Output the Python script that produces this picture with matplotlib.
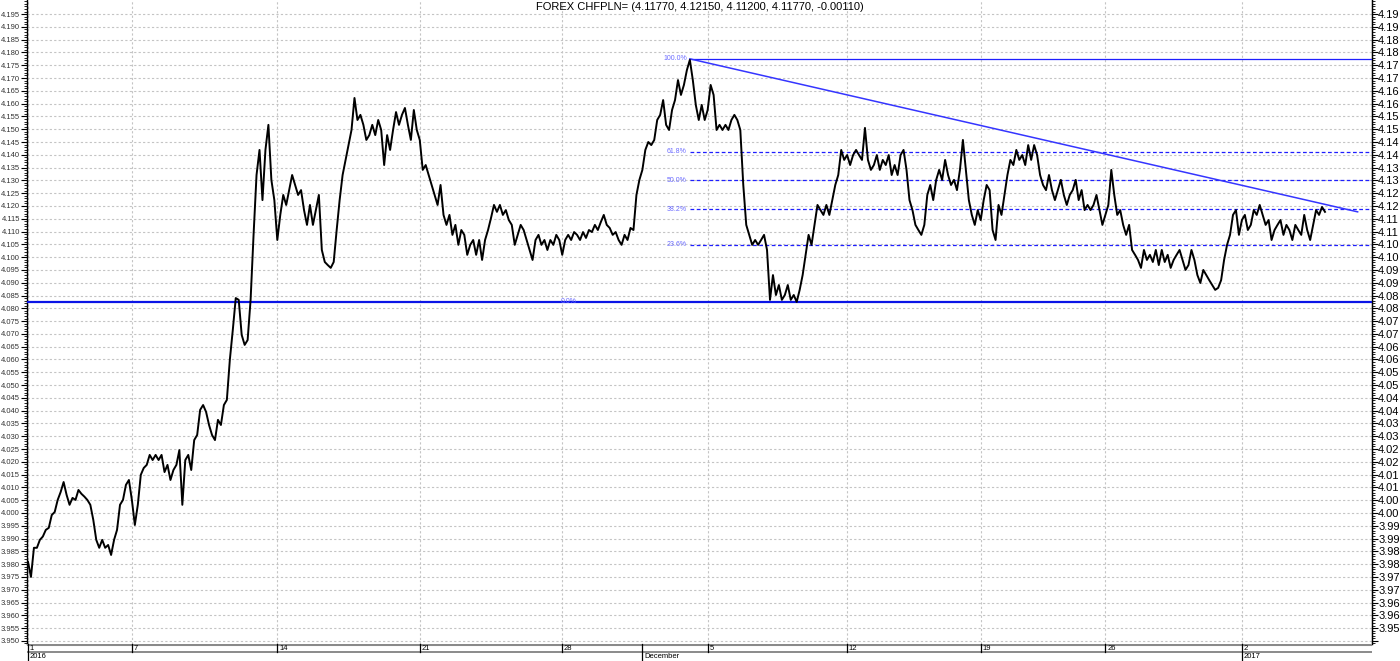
import numpy as np
import matplotlib
matplotlib.use('Agg')
import matplotlib.pyplot as plt
from matplotlib.ticker import MultipleLocator, FuncFormatter, FixedLocator

plt.rcParams['font.family'] = ['Liberation Sans', 'DejaVu Sans']

# CHFPLN intraday closes, one list per trading week
nov01 = [3.9809, 3.9750, 3.9864, 3.9864, 3.9895, 3.9908, 3.9934, 3.9942, 3.9992, 4.0004,
         4.0051, 4.0082, 4.0121, 4.0071, 4.0032, 4.0059, 4.0051, 4.0090, 4.0075, 4.0064,
         4.0051, 4.0032, 3.9973, 3.9895, 3.9864, 3.9895, 3.9864, 3.9875, 3.9836, 3.9895,
         3.9934, 4.0032, 4.0051, 4.0110, 4.0129]
nov07 = [4.0051, 3.9953, 4.0032, 4.0149, 4.0176, 4.0188, 4.0227, 4.0207, 4.0227, 4.0207,
         4.0227, 4.0160, 4.0188, 4.0129, 4.0168, 4.0188, 4.0246, 4.0032, 4.0207, 4.0227,
         4.0168, 4.0285, 4.0305, 4.0403, 4.0422, 4.0395, 4.0344, 4.0305, 4.0285, 4.0364,
         4.0344, 4.0422, 4.0442, 4.0598, 4.0715, 4.0840, 4.0833, 4.0696, 4.0657, 4.0676,
         4.0833, 4.1087, 4.1321, 4.1419, 4.1223, 4.1419, 4.1517, 4.1302, 4.1223]
nov14 = [4.1067, 4.1165, 4.1243, 4.1204, 4.1262, 4.1321, 4.1282, 4.1243, 4.1262, 4.1184,
         4.1126, 4.1204, 4.1126, 4.1184, 4.1243, 4.1028, 4.0981, 4.0969, 4.0958, 4.0981,
         4.1106, 4.1223, 4.1321, 4.1380, 4.1438, 4.1497, 4.1622, 4.1536, 4.1556, 4.1517,
         4.1458, 4.1477, 4.1517, 4.1477, 4.1536, 4.1497, 4.1360, 4.1477, 4.1419, 4.1497,
         4.1567, 4.1517, 4.1556, 4.1583, 4.1517, 4.1458, 4.1575, 4.1497]
nov21 = [4.1458, 4.1341, 4.1360, 4.1321, 4.1282, 4.1243, 4.1204, 4.1282, 4.1165, 4.1126,
         4.1165, 4.1087, 4.1126, 4.1048, 4.1106, 4.1087, 4.1009, 4.1048, 4.1067, 4.1009,
         4.1067, 4.0989, 4.1067, 4.1106, 4.1153, 4.1204, 4.1177, 4.1204, 4.1165, 4.1184,
         4.1145, 4.1126, 4.1048, 4.1087, 4.1126, 4.1106, 4.1067, 4.1028, 4.0989, 4.1067,
         4.1087, 4.1048, 4.1067, 4.1028, 4.1067, 4.1048, 4.1087, 4.1067]
nov28 = [4.1009, 4.1067, 4.1087, 4.1067, 4.1098, 4.1087, 4.1067, 4.1098, 4.1075, 4.1106,
         4.1098, 4.1126, 4.1106, 4.1137, 4.1165, 4.1126, 4.1114, 4.1087, 4.1098, 4.1067,
         4.1048, 4.1087, 4.1067, 4.1114, 4.1106, 4.1243, 4.1302]
dec01 = [4.1341, 4.1419, 4.1450, 4.1438, 4.1458, 4.1536, 4.1556, 4.1614, 4.1517, 4.1497,
         4.1575, 4.1614, 4.1692, 4.1634, 4.1673, 4.1731, 4.1771, 4.1692, 4.1595, 4.1536,
         4.1595, 4.1536]
dec05 = [4.1575, 4.1673, 4.1634, 4.1497, 4.1517, 4.1497, 4.1517, 4.1497, 4.1536, 4.1556,
         4.1536, 4.1497, 4.1282, 4.1126, 4.1087, 4.1048, 4.1067, 4.1048, 4.1067, 4.1087,
         4.1028, 4.0833, 4.0930, 4.0852, 4.0891, 4.0833, 4.0852, 4.0891, 4.0833, 4.0852,
         4.0825, 4.0872, 4.0930, 4.1009, 4.1087, 4.1048, 4.1126, 4.1204, 4.1184, 4.1165,
         4.1204, 4.1165, 4.1223, 4.1282, 4.1321, 4.1419, 4.1380]
dec12 = [4.1399, 4.1360, 4.1399, 4.1419, 4.1399, 4.1380, 4.1505, 4.1380, 4.1341, 4.1360,
         4.1399, 4.1341, 4.1380, 4.1360, 4.1399, 4.1321, 4.1360, 4.1321, 4.1399, 4.1419,
         4.1341, 4.1223, 4.1184, 4.1126, 4.1106, 4.1087, 4.1126, 4.1243, 4.1282, 4.1223,
         4.1302, 4.1341, 4.1302, 4.1380, 4.1321, 4.1282, 4.1302, 4.1262, 4.1341, 4.1458,
         4.1341, 4.1223, 4.1165, 4.1126, 4.1184]
dec19 = [4.1145, 4.1223, 4.1282, 4.1262, 4.1106, 4.1067, 4.1204, 4.1165, 4.1243, 4.1321,
         4.1380, 4.1360, 4.1419, 4.1380, 4.1399, 4.1360, 4.1438, 4.1380, 4.1438, 4.1399,
         4.1321, 4.1282, 4.1262, 4.1321, 4.1262, 4.1223, 4.1262, 4.1302, 4.1243, 4.1204,
         4.1243, 4.1262, 4.1302, 4.1223, 4.1262, 4.1184, 4.1204, 4.1184, 4.1204, 4.1243,
         4.1184, 4.1126]
dec26 = [4.1165, 4.1204, 4.1341, 4.1243, 4.1165, 4.1184, 4.1126, 4.1087, 4.1126, 4.1028,
         4.1009, 4.0989, 4.0958, 4.1028, 4.0989, 4.1009, 4.0981, 4.1028, 4.0969, 4.1028,
         4.0981, 4.1009, 4.0958, 4.0989, 4.1009, 4.1028, 4.0989, 4.0950, 4.0969, 4.1028,
         4.0989, 4.0930, 4.0899, 4.0950, 4.0930, 4.0910, 4.0891, 4.0872, 4.0880, 4.0910,
         4.0989, 4.1048, 4.1087, 4.1165, 4.1184, 4.1087]
jan02 = [4.1145, 4.1165, 4.1106, 4.1126, 4.1184, 4.1165, 4.1204, 4.1165, 4.1126, 4.1145,
         4.1067, 4.1106, 4.1126, 4.1145, 4.1087, 4.1126, 4.1106, 4.1067, 4.1126, 4.1106,
         4.1087, 4.1165, 4.1106, 4.1067, 4.1126, 4.1184, 4.1165, 4.1196, 4.1177]

segments = [nov01, nov07, nov14, nov21, nov28, dec01, dec05, dec12, dec19, dec26, jan02]
day_labels = ['1', '7', '14', '21', '28', '', '5', '12', '19', '26', '2']
period_labels = ['2016', '', '', '', '', 'December', '', '', '', '', '2017']

title = 'FOREX CHFPLN= (4.11770, 4.12150, 4.11200, 4.11770, -0.00110)'

# Fibonacci retracement and trend line drawn on the chart
fib_high, fib_low = 4.1775, 4.0825
fib_ratios = [0.0, 0.236, 0.382, 0.5, 0.618, 1.0]
trend_end = (448, 4.1177)
fib_low_label_at = 185

prices = np.concatenate(segments)
idx = np.arange(len(prices))
starts = np.concatenate([[0], np.cumsum([len(s) for s in segments])[:-1]])

W, H = 1400, 661
fig = plt.figure(figsize=(W / 100, H / 100), dpi=100)
left, right, strip_h = 27, 1372, 17
ax = fig.add_axes([left / W, strip_h / H, (right - left) / W, 1 - strip_h / H])

px = (1325 - 28) / (len(prices) - 1)
xlim = (-1 / px, (right - 28) / px)
ax.set_xlim(*xlim)
ax.set_ylim(3.9488, 4.2005)

ax.plot(idx, prices, color='black', lw=1.4, zorder=5)

# fibonacci levels
peak = int(np.argmax(prices))
fib_col, lab_col = '#1f1fff', '#6b6bff'
for r in fib_ratios:
    lvl = fib_low + r * (fib_high - fib_low)
    if r == 0.0:
        ax.axhline(lvl, color='#0a14e6', lw=1.6, zorder=4)
        ax.text(fib_low_label_at, lvl, '0.0%', color=lab_col, fontsize=5,
                ha='right', va='center', zorder=6)
        continue
    ls = '-' if r == 1.0 else (0, (3, 2))
    ax.hlines(lvl, peak, xlim[1], color=fib_col, lw=0.9, linestyles=ls, zorder=4)
    ax.text(peak - 1, lvl, f'{r * 100:.1f}%', color=lab_col, fontsize=5,
            ha='right', va='center', zorder=6)

ax.plot([peak, trend_end[0]], [fib_high, trend_end[1]], color='#3535ff', lw=1.1, zorder=4)

# axes cosmetics
for s in ['top', 'bottom']:
    ax.spines[s].set_visible(False)
ax.spines['left'].set_linewidth(1.0)
ax.spines['right'].set_linewidth(1.0)

yt = np.round(np.arange(3.950, 4.1951, 0.005), 3)
ax.yaxis.set_major_locator(FixedLocator(yt))
ax.yaxis.set_minor_locator(MultipleLocator(0.001))
ax.yaxis.set_major_formatter(FuncFormatter(lambda v, p: f'{v:.3f}'))
ax.tick_params(axis='y', which='major', length=4, width=0.8, labelsize=5.5, pad=1,
               labelcolor='#333333')
ax.tick_params(axis='y', which='minor', length=2, width=0.6)

week_idx = [st for st, d in zip(starts, day_labels) if d]
ax.set_xticks(week_idx)
ax.tick_params(axis='x', which='both', length=0, labelbottom=False)
ax.grid(True, which='major', color='#c4c4c4', lw=0.8, ls=(0, (2, 2)))

ax2 = ax.twinx()
ax2.set_ylim(ax.get_ylim())
ax2.yaxis.set_major_locator(FixedLocator(yt))
ax2.yaxis.set_minor_locator(MultipleLocator(0.001))
ax2.yaxis.set_major_formatter(FuncFormatter(
    lambda v, p: '' if v < 3.952 else f'{np.floor(v * 100 + 1e-6) / 100:.2f}'))
ax2.tick_params(axis='y', which='major', length=4, width=0.8, labelsize=8, pad=0.5)
ax2.tick_params(axis='y', which='minor', length=2, width=0.6)
for s in ['top', 'bottom', 'left']:
    ax2.spines[s].set_visible(False)

fig.text(700 / W, 1 - 7 / H, title, ha='center', va='center', fontsize=8)

# date strip under the chart
sx = fig.add_axes([left / W, 0, (right - left) / W, strip_h / H], sharex=ax)
sx.set_ylim(strip_h, -0.5)
sx.axis('off')
sx.axhline(0, color='#8a8a8a', lw=2.2)
sx.axhline(8, color='#8a8a8a', lw=1.4)
for st, d, per in zip(starts, day_labels, period_labels):
    bottom = strip_h if per else 8
    sx.plot([st, st], [0, bottom], color='black', lw=0.9, clip_on=False)
    if d:
        sx.text(st + 0.6, 4.2, d, fontsize=5.5, ha='left', va='center')
    if per:
        sx.text(st + 0.6, 12.8, per, fontsize=5.5, ha='left', va='center')

fig.savefig('out.png', dpi=100)
